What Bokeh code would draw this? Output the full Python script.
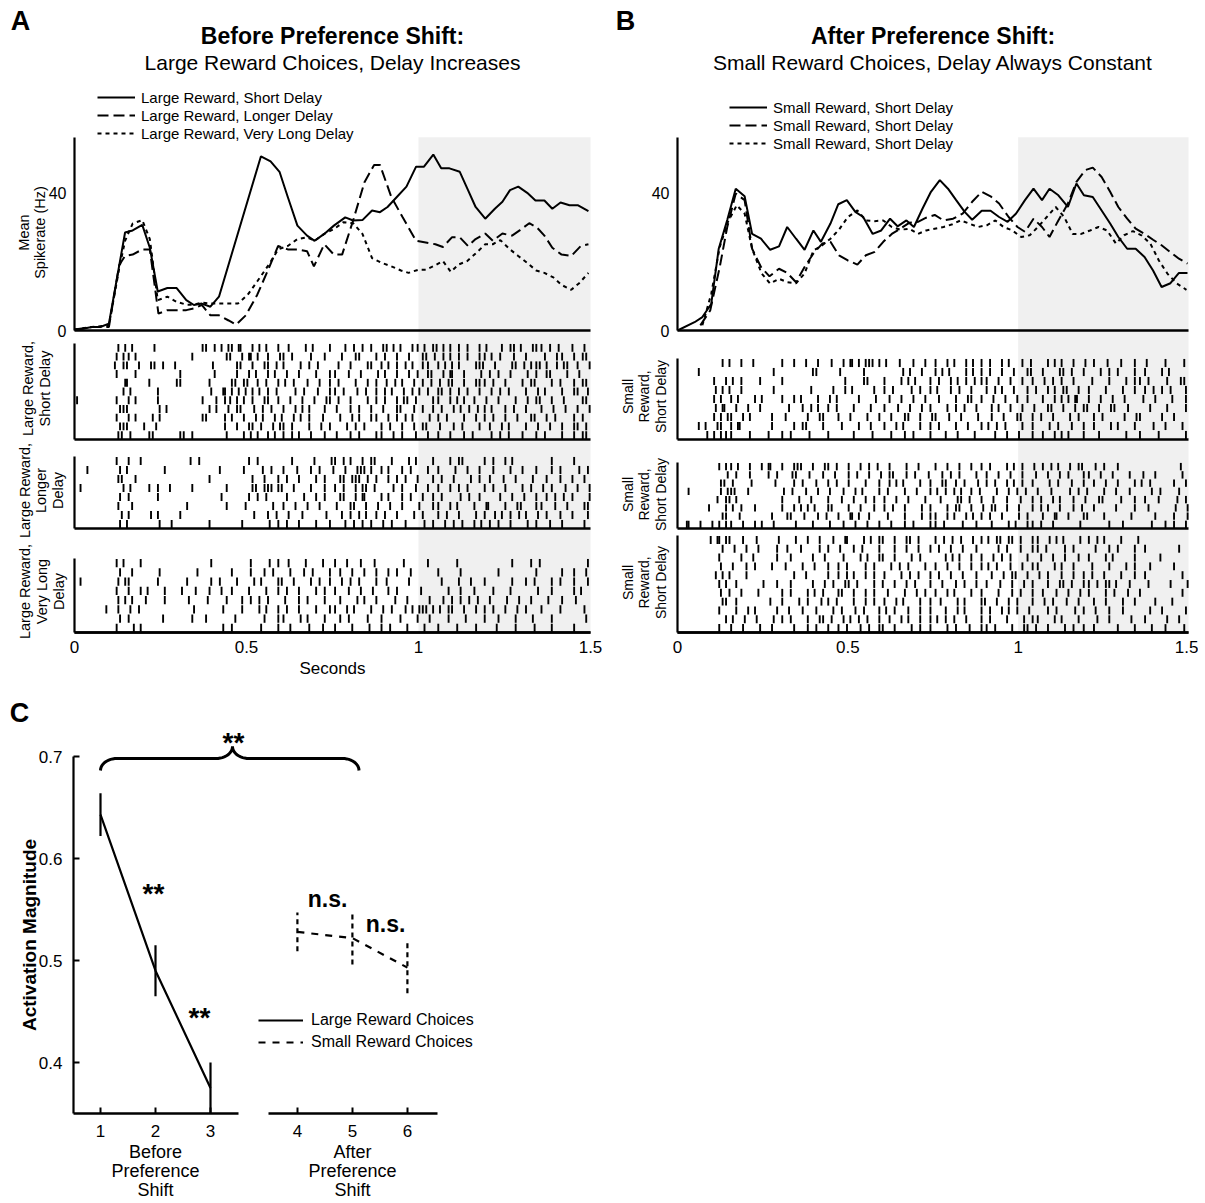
import math
from bokeh.plotting import figure
from bokeh.models import (Range1d, LinearAxis, FixedTicker, BoxAnnotation, Label,
                          Legend, LegendItem)
from bokeh.layouts import row, column
from bokeh.embed import file_html
from bokeh.resources import INLINE

FONT = "Liberation Sans"

# ------------------------------------------------------------------ data
# Panel A: mean spike rate (Hz) vs time (s)
a_solid_t = [0.0, 0.025, 0.05, 0.075, 0.1, 0.147, 0.169, 0.197, 0.219, 0.242, 0.27, 0.297, 0.325, 0.347,
             0.37, 0.395, 0.42, 0.542, 0.57, 0.596, 0.62, 0.648, 0.676, 0.698, 0.726, 0.754, 0.787, 0.81,
             0.837, 0.865, 0.888, 0.91, 0.937, 0.965, 0.993, 1.016, 1.043, 1.066, 1.09, 1.12, 1.144, 1.166,
             1.194, 1.222, 1.244, 1.266, 1.29, 1.316, 1.34, 1.366, 1.389, 1.413, 1.439, 1.464, 1.494]
a_solid_r = [0.2, 0.5, 1.0, 1.0, 2.0, 28.4, 29.0, 30.6, 24.0, 11.3, 12.3, 12.3, 8.8, 7.4,
             7.8, 6.9, 9.8, 50.5, 49.0, 46.0, 38.7, 30.4, 27.5, 26.0, 28.0, 30.4, 32.8, 31.9,
             32.0, 34.8, 34.3, 35.8, 38.7, 41.7, 47.5, 47.5, 51.0, 47.0, 47.0, 46.0, 40.7, 35.8,
             32.4, 35.3, 37.3, 40.7, 41.7, 39.9, 37.7, 37.7, 35.3, 37.1, 36.3, 36.3, 34.6]
a_dash_t = [0.0, 0.05, 0.1, 0.13, 0.147, 0.169, 0.197, 0.219, 0.244, 0.27, 0.297, 0.325, 0.347, 0.37,
            0.395, 0.42, 0.448, 0.47, 0.498, 0.531, 0.565, 0.592, 0.62, 0.648, 0.676, 0.696, 0.726,
            0.754, 0.778, 0.81, 0.843, 0.871, 0.888, 0.921, 0.954, 0.993, 1.021, 1.049, 1.071, 1.097,
            1.12, 1.144, 1.166, 1.194, 1.216, 1.244, 1.272, 1.294, 1.322, 1.344, 1.366, 1.389, 1.416,
            1.444, 1.472, 1.494]
a_dash_r = [0.3, 1.0, 1.0, 19.0, 21.6, 22.0, 23.5, 23.5, 4.9, 5.9, 5.9, 5.9, 6.4, 7.4,
            4.4, 4.4, 2.9, 1.7, 4.4, 10.3, 18.1, 24.5, 23.5, 23.5, 23.0, 18.6, 25.0,
            22.0, 22.0, 31.9, 43.0, 48.0, 48.0, 38.7, 32.8, 26.0, 25.5, 25.0, 24.2, 27.0,
            27.0, 24.5, 26.5, 28.1, 26.0, 28.1, 27.5, 29.0, 31.1, 29.9, 27.5, 24.0, 22.0,
            21.6, 24.5, 25.0]
a_dot_t = [0.0, 0.05, 0.1, 0.13, 0.147, 0.169, 0.197, 0.219, 0.242, 0.27, 0.297, 0.325, 0.347, 0.37,
           0.395, 0.42, 0.448, 0.475, 0.503, 0.531, 0.565, 0.592, 0.62, 0.648, 0.676, 0.698, 0.726,
           0.754, 0.782, 0.81, 0.837, 0.865, 0.893, 0.921, 0.949, 0.971, 0.999, 1.021, 1.049, 1.071,
           1.094, 1.116, 1.141, 1.166, 1.194, 1.216, 1.238, 1.266, 1.29, 1.316, 1.342, 1.366, 1.392,
           1.416, 1.444, 1.467, 1.494]
a_dot_r = [0.3, 1.0, 1.5, 18.0, 26.0, 31.0, 32.0, 26.5, 8.8, 9.8, 8.3, 7.5, 7.5, 8.1,
           7.8, 7.8, 7.8, 7.8, 10.3, 14.2, 19.1, 23.5, 24.5, 26.5, 27.0, 26.0, 28.0,
           29.4, 31.4, 31.1, 28.0, 21.0, 19.6, 18.6, 17.4, 16.7, 17.6, 17.6, 18.9, 20.1,
           17.0, 19.1, 20.1, 22.3, 25.0, 25.0, 26.2, 23.5, 21.6, 19.6, 17.4, 16.7, 15.4,
           13.2, 11.8, 13.7, 16.7]

# Panel B
b_solid_t = [0.0, 0.05, 0.073, 0.099, 0.121, 0.146, 0.171, 0.197, 0.219, 0.245, 0.272, 0.298, 0.322,
             0.348, 0.373, 0.399, 0.421, 0.449, 0.472, 0.497, 0.522, 0.545, 0.573, 0.598, 0.624, 0.646,
             0.672, 0.694, 0.719, 0.744, 0.77, 0.794, 0.818, 0.843, 0.865, 0.893, 0.919, 0.944, 0.969,
             0.994, 1.02, 1.045, 1.07, 1.092, 1.118, 1.146, 1.171, 1.193, 1.219, 1.245, 1.27, 1.294,
             1.32, 1.345, 1.371, 1.396, 1.421, 1.447, 1.472, 1.497]
b_solid_r = [0.0, 2.4, 3.9, 7.7, 23.7, 32.0, 41.1, 38.9, 28.0, 26.6, 23.4, 24.4, 30.0,
             26.6, 23.4, 29.0, 25.7, 31.0, 36.6, 37.8, 34.4, 32.9, 28.0, 29.0, 32.4, 30.2,
             31.9, 30.0, 35.3, 40.2, 43.6, 41.1, 37.8, 34.4, 32.1, 34.7, 34.7, 32.9, 31.5,
             33.9, 37.8, 41.1, 37.8, 41.1, 39.2, 35.8, 42.6, 39.2, 38.7, 34.8, 31.0, 27.1,
             23.7, 23.7, 21.3, 17.4, 12.6, 13.7, 16.7, 16.7]
b_dash_t = [0.067, 0.096, 0.124, 0.146, 0.171, 0.197, 0.219, 0.245, 0.27, 0.298, 0.322, 0.348, 0.373,
            0.399, 0.425, 0.449, 0.474, 0.5, 0.528, 0.553, 0.579, 0.604, 0.629, 0.654, 0.68, 0.706,
            0.73, 0.755, 0.781, 0.809, 0.837, 0.865, 0.893, 0.919, 0.944, 0.972, 0.998, 1.02, 1.045,
            1.07, 1.092, 1.118, 1.146, 1.171, 1.197, 1.219, 1.245, 1.27, 1.294, 1.32, 1.345, 1.371,
            1.396, 1.421, 1.447, 1.472, 1.497]
b_dash_r = [1.5, 5.8, 18.4, 30.0, 39.7, 37.8, 23.7, 18.4, 15.7, 17.9, 16.7, 14.0, 18.4,
            22.3, 25.2, 25.7, 21.8, 20.3, 19.1, 21.8, 22.8, 25.7, 28.0, 29.5, 31.2, 31.5,
            32.7, 33.5, 31.9, 32.4, 33.9, 37.3, 40.2, 38.9, 36.8, 32.9, 30.0, 28.6, 32.4,
            30.0, 27.1, 31.9, 36.8, 43.1, 46.5, 47.2, 44.5, 40.2, 35.8, 32.4, 29.5, 28.0,
            26.3, 24.7, 22.7, 20.8, 19.4]
b_dot_t = [0.073, 0.099, 0.124, 0.148, 0.174, 0.197, 0.219, 0.247, 0.272, 0.298, 0.322, 0.348, 0.373,
           0.399, 0.425, 0.449, 0.474, 0.5, 0.528, 0.553, 0.579, 0.604, 0.629, 0.654, 0.68, 0.706,
           0.73, 0.755, 0.781, 0.807, 0.831, 0.856, 0.882, 0.908, 0.933, 0.957, 0.983, 1.009, 1.034,
           1.058, 1.084, 1.11, 1.135, 1.16, 1.185, 1.211, 1.236, 1.261, 1.287, 1.311, 1.337, 1.362,
           1.388, 1.413, 1.438, 1.466, 1.494]
b_dot_r = [1.5, 10.6, 24.2, 31.5, 36.3, 33.9, 23.7, 16.5, 13.6, 15.0, 14.0, 13.7, 16.5,
           23.2, 24.7, 26.6, 29.2, 32.9, 34.8, 31.9, 31.7, 31.9, 30.0, 29.2, 29.5, 28.0,
           29.0, 29.5, 30.0, 30.8, 31.9, 31.0, 30.0, 30.5, 31.9, 30.0, 29.0, 27.1, 27.6,
           30.0, 32.9, 35.8, 32.9, 28.0, 28.0, 29.0, 30.0, 29.0, 25.2, 27.6, 28.8, 27.6,
           25.2, 20.3, 16.5, 13.6, 11.8]

legend_a = ["Large Reward, Short Delay", "Large Reward, Longer Delay", "Large Reward, Very Long Delay"]
legend_b = ["Small Reward, Short Delay", "Small Reward, Short Delay", "Small Reward, Short Delay"]
time_ticks = [0, 0.5, 1, 1.5]
time_tick_labels = ["0", "0.5", "1", "1.5"]
rate_ticks = [0, 40]

# Rasters: one string per trial, 10 groups of 10 bins (15 ms bins over 0-1.5 s).
# A mark is a spike in that bin: ':' early in the bin, '|' mid-bin, '!' late in the bin.
BIN = 0.015
raster_a1 = [
    "........|! .:...|.... ....!|.:|! |!:.|!.:.| .|..!.:..| ..|.:!.|.! |!.:.||!.| :|!.|.:.|! ..!.|:|.!| |.:!..|.!.",
    "........:| |!........ ..!......| :.|!:|.|.! |.:..!..|. .!..|:..|. :.|.!..|:! .|!.|.:.|| !.|..:.|.. .:.||.!.|:",
    ".......!.| :.|.!|.:.| ......!... .|:.|.!|.: |..!.|.:.. .:.|..!|.| !.|.:|.||. |!.:|..!|: .|..!|.:|| :|.|!|.|.!",
    "........:. .!........ |......:.. .|.!.:.|!. .:.|..!..| |..:.|..!. :.|.!.|.|: .|!:.|..!. |.:.|..!.| .|:..|.!..",
    ".........! :...|....! |.....:... |:!|.|.:.| !.|..:.|.| .:..|.!.|. |.:|.!.|.: !.|:.|.!|| .:.|..!.|: ..|.:.!.|:",
    ".........| !.....:... ......|.!: |!.:|!.|.: ..!.|..:.| |.:.!.|.|. :|.!.|!.|. |:!.|.:.|. !.|.:..|.! .:..|.!|.|",
    "|.......:. |!....:... ....!..|.: :|!.|.!|.| .!..:.|.!| .:.|..!.|. :.|!|.:..| |.!.:|.|.! ..:..|.!.| :.|.!...|:",
    "........!| :.....|!.. ......:|.! .|:.!.|.:. |.!.:|..|. !..|.:.|.! ..|:.!.|.| .:.|!.|.:| !..|.:.|.. |.!..:.|.!",
    "........:. |!...:|... ....!|...: |.!..:|.!. :.|!.|..:. .|.!.:.||. !.|.:|..!. |.:..|.!.| .:.|.!..|: .|.:..!.|.",
    "........!| :..|.!.... .........: .|.!|.:.|! |.:..|.!.| ..!.|.:..| .:.|.!.|:. !..|.:..|. |.!.:..|.! ..:.|.!|.:",
    "........|: !...|:.... |:!......| ..!.:|.|!. |.:|.!..|. !..|.:..|| .!.|..:.|. |.!..|.:.. !.|.:.!..| .:..|.!.|:",
]
raster_a2 = [
    "........:. |.!....... ..|.:..... ...!.|.... ..:...|..! |.:|.!.|:. .|..!.:..| ..!.|:...| .:.|!..... ..|...!...",
    "..|.....!. :......|.. ........:. ..!...|.:. |..:.!.|.. :.|.!|:|.| !..|.:..|. |..!..:.|. .:..|.!..| ..|.:..!.|",
    "........|: .!........ ......:... ....|.!..| .:.|..!.|. .|:!|:!.|. !.|.:.|..| .:.|..!.|. |..:.|..!. .|..:.|.!.",
    ".:.......| !...|.:.|. ..!......| ....|:!|:| :.|..!..|. |.:.|!|.:. .!.|..:.|. |.!.|.:..| .:.|..!.|. !.|..:.|.!",
    "........!. |.....:... ........|. ...!.|.:.. .:..|.!.|. .|:.|!:..| !..|.:.|.| .:..!.|.|. ..|.!..:.| .|.:!.|..!",
    "........|. .:........ .!.......| ...:....|. |.!..:.|.. !..|:.|.!. .:.|..!..| |.!.:..|.! :..|.!|..| |..:.|..!|",
    ".........: |...!.:... |......... ....!..|.: .|..:...!. .!.|.:|.|. :.|..!.|.. |.:.|..!.| .|!.|.:|.! .|..:.|..|",
    "........!. :.....|.!. ......:... ..|....!.| .:.|..!..| ..|.:!.|.! .|..:..!.| .!.|.:.|!. |.:.|..!.| ..:.|...!.",
]
raster_a3 = [
    "........:| ..!....... ......|... ....:..!.| .|..!...:. |.!..|..:. ...!....|. ....:..... ....!...|. :........|",
    "........!. .:....|... ...!...... |...:.!.|. .!..|.:..| .|.!..:.|. !.|..:.... |...!..... ..:......| ....|.!..:",
    ".:......|! |.....:... .!....|.:. .|..!.:..| :.|..!.|.| .!.|.:..|. |...!..... .:..|.!..| ....!..|.: ..|.:.!..|",
    "........:. |.!.:..|.. !..|..:.|. |..!...:.| .:.|..!.|. |..:.|.!.. !.|....:.. ..|.!..|.. .:..|....! ..|...!.:.",
    "........|! .:.!...|.. ..:..!...| ..|.:!.|.. !..|.:..|. .|..!.:.|. ..:.|...!. .|.:!.|.:. |..!..:.|. .!..|..:..",
    "......:.|. !.|....... ...:....!. ..|..!.:.| .:.|..!..| |.!.:..|.! .|..:|!|:| !.|:.|.!.| .:.|.!.|.. |...:...!.",
    "........!. |......:.. ..!..|.... .:....!..| |..!.:..|. .|.:..!..| ...:..|.!. ..|..!...| ..:..|..!. ..|......:",
    "........:. .|!....... ........!. |.....:..| .!...|..:. |..!...:.| .:..|..!.. |...:..!.. .!...|...: ..|...!...",
]
raster_b1 = [
    "........!. :.|.!..... |.!..:.|.. :.|!:|!|:| !..|..:.|. |.!.:.|!.| .:.|!..|.: ..|!.:.|.! .|..:.!..| .!...|...:",
    "....:..... ........!. ......|:.. .!....|... ....:|.!.. |!.:..|!.| .:.|.!..|: .|..!|.:.| ..!.|.:..| .|..!.:...",
    ".......:.| !.|...:... |......... ..!...|:.. |..!.:|..|. .:.|!.|.:| |.!..:.|.| .!.|.:.|.. .:..|..!.| |.:..!..|:",
    ".......|!. :.|.....!. ......:... |.!.:...|. |.:..!.|.| !..|.:.|.. |.:|.!..|. :.|!.|:.|. |..!...:.| .|.:!.|..|",
    ".......:|. |!...:|... |.!.:..|.! .:...|..!. .|.!..:.|. .:..|.!|.| .!..:.|.|. .|.!.:|!:. |.!..:.|.. .:.|..!..|",
    ".......|!: .|.!..:... .!..|.:|.| .:..|..!.. |..:.|.!.| ..!.|.:.|. .|!..:.|.! ..|:.|.!.| :.|.!|..:. ..|..!...|",
    ".......:|! |.!.:...|. .:...|.!|. .|.!...:.| .!..|:.|.! |..:.|..!. .|.!..|:.| .:.|..!.|. .|.:...|.! |...!..:..",
    "....:|.!|. |!:.....|. ..!.|:..|. ..:..|.!.. |.!.:..|.| .:..|.!..| !.|.:..|.| ..!.|..:.| .|..!.:..| ...:.|..!.",
    ".....!.:|| |...:..!.. |.:..!...| ....|...:. .!..|.:..| ..|.!...:. ..:.|.!..| .|.!.:|..| ..|....!.. |...:....|",
]
raster_b2 = [
    "........:| |!..:.|!:. |.!|:.|.!| .:.|.!.|.: .|..!..:.. |.!..:.|.| .:..|!.|.! .|.:|.!.|: .!.|..:... ........|.",
    ".........! .|..:..!.| ..|:.!..|. !..|.:.|.! .|:.!.|..: .!.|.:..|. |.!..:.|.. :.|.!.|..| |.!..:..|. .:.|....!.",
    "........|: !...|....: ..!.|..:.| .:.|..!..| .|!.:..|.| .!|.|.:.!. |.:.|!.|.| ..!.|..:.| .|.!..:..| !.|....:.|",
    "..:.....|! |:.!...... !.|..:.|.! ..|.!.:..| .:..|.!..| !.|.:|.|.: ..|.!.|.:. |..:..!.|. :..|.!..|. ..!.|...:.",
    ".......!.| :|........ |..!..:..| ..:.|.!.|. |.!..:..|. .|..!|.:.| .!..|..:.| .:.|!..|.! ..|:..!..| .|..:..!.|",
    "......:..| !.|..:.... |.!.:|!..| :..|.!..|. |.:.|..!.| ..!.|:.|.! .|:.|.!..| .:|.!..|.: .|...!...| ..:....|.!",
    "........!| ..:.....|. .|:.!..|.: .|.!:|.|.. .:..|..!.| |.!.:.|!.| .:.|..!.|. .|.!:.|..| :..|....!. ...|...:.!",
    ".!:.|.!.:| |.!..:|.!. ...:..|..! ..|.!..:.| .!..|.:..| |.:..!..|. .|..!.:.|| .:.|....!. ....|..:.. ..!..|.:.|",
]
raster_b3 = [
    "......|!:| :.!..|...! ...:.|.!.. |.!:..|!.| :.|.!|.:.. |.:!.|.!.| !.|:!|.:.| |.!.:|..!. |.:|..!... :.........",
    "........!. .:.|.!...| .|..:..!.| .!..|.:..| ..|.!..:.| .:.|.!..|. ..!.|..:.| |.:..!.|.. .!..|.:..| .|......:.",
    "........:. ..|.!....| ..:...|.!. ..|..!.:.| :.|..!.|.. ..|!.:.|.| .!.|.:..|. .:.|.!..|. |..!.:...| ....|.....",
    "........|. !..|.:..|. .:..|.!..| .|.:..!.|. .!.|.:..|. |.!..:.|.| !.|..:.|.| |..!.:.|.. .:..|..!.| ..|....:..",
    ".......|!. :..|...... ..!..:...| .|.:|.!.|. |..!.|.:.| .:.|.!..|. .|.!.|:.|. !.|..:.|.| .:.|..!..| .|......!.",
    "........:| .|....!..| ..:...|.!. |.!|.:..|. :.|.!.|..| .!..|.:.|. |..:.|.!.| ..|.!|.:.| |.:!|!..|. ..:...|..!",
    "........|. :.|..!.... |.:..|!.|. .|:.|.!.|. .:..|.!.|. |.!.:..|.| ..!..|.:.| .|..:.|.!. |..!.|..:. |.......!.",
    "........!| .|......:. |..!.|..:| .:..|.!.|. |.!.:..|.| .|..!.:..| :.|.!.|..| .!.|..:.|. .|.!...:.| ...|..!...",
    "........:. .|.!.:...| .!..|..:.. |.:.!.|..| !.|..:.|.| ..|.!.:..| .:.|!.|.!. ..|.:..!.| .!..|..:.. ..|.!....|",
    ".........| !..:.|..!. |.:..|.!|. :.|!.|.:.| .|.!.:.|.| !.|.:.|..| .:..|..!.| |..!.:..|. ..:.|...!. .|...!..:.",
    "........:. |.!...:.|. ..!..|.:.| .|.:.!.|.| :.|..!.|.| ..!.|..:.| |.:..|.!|. :.|..!.|.| .|....:..| ..!..|...:",
]

# Panel C: activation magnitude per condition
c_large_x = [1, 2, 3]
c_large_y = [0.643, 0.490, 0.375]
c_large_err = [0.021, 0.025, 0.025]
c_small_x = [4, 5, 6]
c_small_y = [0.528, 0.522, 0.493]
c_small_err = [0.019, 0.026, 0.025]
c_x_labels = ["1", "2", "3", "4", "5", "6"]
c_y_ticks = [0.4, 0.5, 0.6, 0.7]
legend_c = ["Large Reward Choices", "Small Reward Choices"]

# ------------------------------------------------------------------ layout (page px)
FIG_H = 684
ZERO_PX = 330.0           # y of 0 Hz
PX_HZ = 138.0 / 40.0      # px per Hz
RATE_TOP = 56.0
T_END = 1.5
BASE_PX = 632             # bottom time axis
SHADE_COLOR = "#f0f0f0"
JITTER = {":": -0.33, "|": 0.0, "!": 0.33}


def parse_raster(rows):
    n = len(rows)
    xs, ys = [], []
    for i, r in enumerate(rows):
        for g, grp in enumerate(r.split()):
            for j, ch in enumerate(grp):
                if ch in JITTER:
                    xs.append((g * 10 + j + 0.5 + JITTER[ch]) * BIN)
                    ys.append(n - i - 0.5)
    return xs, ys


def add_text(p, x, y, text, size, bold=False, angle=0.0, align="center", baseline="middle", **kw):
    p.add_layout(Label(x=x, y=y, text=text, angle=angle, text_align=align, text_baseline=baseline,
                       text_font=FONT, text_font_size=size,
                       text_font_style="bold" if bold else "normal", text_color="black", **kw))


def make_panel(canvas_left, width, frame_left, frame_right, letter, letter_px, title, subtitle,
               series, legend_labels, legend_px, rate_label, rasters, xlabel):
    pps = (frame_right - frame_left) / T_END

    def tx(px):
        return (px - frame_left) / pps

    def ry(py):
        return (ZERO_PX - py) / PX_HZ

    p = figure(width=width, height=FIG_H,
               x_range=Range1d(tx(canvas_left), tx(canvas_left + width)),
               y_range=Range1d(ry(FIG_H), ry(0)),
               x_axis_type=None, y_axis_type=None, output_backend="svg", toolbar_location=None,
               min_border=0, min_border_left=0, min_border_right=0, min_border_top=0,
               min_border_bottom=0)
    p.outline_line_color = None
    p.add_layout(BoxAnnotation(left=1.0, right=T_END, top=RATE_TOP, bottom=ry(BASE_PX),
                               fill_color=SHADE_COLOR, fill_alpha=1.0, line_color=None,
                               level="underlay"))

    # PSTH lines
    renderers = []
    for (t, r, dash) in series:
        renderers.append(p.line(t, r, line_color="black", line_width=2.0, line_dash=dash))
    p.segment(x0=[0], x1=[T_END], y0=[0], y1=[0], line_color="black", line_width=2.4)

    ya = LinearAxis(fixed_location=0.0, bounds=(0, RATE_TOP), ticker=FixedTicker(ticks=rate_ticks),
                    axis_line_width=2.2, axis_line_color="black",
                    major_tick_in=0, major_tick_out=0, minor_tick_in=0, minor_tick_out=0,
                    major_label_standoff=8, major_label_text_font=FONT,
                    major_label_text_font_size="16px", major_label_text_color="black")
    p.add_layout(ya, "left")

    xa = LinearAxis(fixed_location=ry(BASE_PX), bounds=(0, T_END),
                    ticker=FixedTicker(ticks=time_ticks),
                    major_label_overrides={k: v for k, v in zip(time_ticks, time_tick_labels)},
                    axis_line_width=2.4, axis_line_color="black",
                    major_tick_in=0, major_tick_out=0, minor_tick_in=0, minor_tick_out=0,
                    major_label_standoff=8, major_label_text_font=FONT,
                    major_label_text_font_size="17px", major_label_text_color="black")
    p.add_layout(xa, "below")

    # rasters
    for (name, rows, top_px, base_px, lab_lines, lab_xs, lab_cy, lab_size) in rasters:
        n = len(rows)
        ppr = (base_px - top_px) / n
        p.extra_y_ranges[name] = Range1d(-(FIG_H - base_px) / ppr, n + top_px / ppr)
        xs, ys = parse_raster(rows)
        p.segment(x0=xs, x1=xs, y0=[y - 0.45 for y in ys], y1=[y + 0.45 for y in ys],
                  y_range_name=name, line_color="black", line_width=1.9)
        p.segment(x0=[0], x1=[0], y0=[0], y1=[n], y_range_name=name,
                  line_color="black", line_width=2.2)
        p.segment(x0=[0], x1=[T_END], y0=[0], y1=[0], y_range_name=name,
                  line_color="black", line_width=2.4)
        for line, lx in zip(lab_lines, lab_xs):
            add_text(p, tx(lx), ry(lab_cy), line, lab_size, angle=math.pi / 2)

    if rate_label:
        lines, xs_, cy = rate_label
        for line, lx in zip(lines, xs_):
            add_text(p, tx(lx), ry(cy), line, "14.5px", angle=math.pi / 2)

    add_text(p, tx(letter_px[0]), ry(letter_px[1]), letter, "27px", bold=True)
    add_text(p, 0.75, ry(35), title, "23px", bold=True)
    add_text(p, 0.75, ry(62), subtitle, "21px")
    if xlabel:
        add_text(p, 0.75, ry(668), xlabel, "17px")

    leg = Legend(items=[LegendItem(label=l, renderers=[r]) for l, r in zip(legend_labels, renderers)],
                 location=(legend_px[0] - canvas_left, FIG_H - legend_px[1]),
                 orientation="vertical", border_line_color=None, background_fill_alpha=0.0,
                 padding=0, spacing=0, margin=0, glyph_width=38, glyph_height=18,
                 label_height=18, label_standoff=6, label_text_font=FONT,
                 label_text_font_size="15px", label_text_color="black")
    p.add_layout(leg)
    return p


SOLID, DASH, DOT = "solid", "11 5", "4 4"

fig_a = make_panel(
    canvas_left=0, width=604, frame_left=74, frame_right=590,
    letter="A", letter_px=(20, 20),
    title="Before Preference Shift:", subtitle="Large Reward Choices, Delay Increases",
    series=[(a_solid_t, a_solid_r, SOLID), (a_dash_t, a_dash_r, DASH), (a_dot_t, a_dot_r, DOT)],
    legend_labels=legend_a, legend_px=(97, 142),
    rate_label=(["Mean", "Spikerate (Hz)"], [23, 39], 232),
    rasters=[
        ("a1", raster_a1, 343, 439, ["Large Reward,", "Short Delay"], [27, 44], 388, "14.5px"),
        ("a2", raster_a2, 456, 528, ["Large Reward,", "Longer", "Delay"], [24, 40, 57], 490, "14.5px"),
        ("a3", raster_a3, 558, 632, ["Large Reward,", "Very Long", "Delay"], [24, 41, 58], 591, "14.5px"),
    ],
    xlabel="Seconds")

fig_b = make_panel(
    canvas_left=604, width=594, frame_left=677, frame_right=1188,
    letter="B", letter_px=(625, 20),
    title="After Preference Shift:", subtitle="Small Reward Choices, Delay Always Constant",
    series=[(b_solid_t, b_solid_r, SOLID), (b_dash_t, b_dash_r, DASH), (b_dot_t, b_dot_r, DOT)],
    legend_labels=legend_b, legend_px=(729, 152),
    rate_label=None,
    rasters=[
        ("b1", raster_b1, 358, 439, ["Small", "Reward,", "Short Delay"], [627, 643, 660], 396, "14px"),
        ("b2", raster_b2, 462, 528, ["Small", "Reward,", "Short Delay"], [627, 643, 660], 494, "14px"),
        ("b3", raster_b3, 535, 632, ["Small", "Reward,", "Short Delay"], [627, 643, 660], 582, "14px"),
    ],
    xlabel=None)

# ------------------------------------------------------------------ panel C
GAP = 0.58          # horizontal gap inserted between the two condition groups
C_TOP, C_W, C_H = 684, 500, 516
C_AXIS_L_PX = 73
C_PX_X, C_PX_Y = 55.0, 1020.0
C_TICK1_PX, C_07_PX = 100.0, 756.0
C_FLOOR = 0.35


def cpos(c):
    return round(c + GAP, 2) if c >= 4 else float(c)


def cxp(px):
    return 1.0 + (px - C_TICK1_PX) / C_PX_X


def cyp(py):
    return 0.7 - (py - C_07_PX) / C_PX_Y


fig_c = figure(width=C_W, height=C_H,
               x_range=Range1d(cxp(0), cxp(C_W)),
               y_range=Range1d(cyp(C_TOP + C_H), cyp(C_TOP)),
               x_axis_type=None, y_axis_type=None, output_backend="svg", toolbar_location=None,
               min_border=0, min_border_left=0, min_border_right=0, min_border_top=0,
               min_border_bottom=0)
fig_c.outline_line_color = None

lx = [cpos(c) for c in c_large_x]
sx = [cpos(c) for c in c_small_x]
r_large = fig_c.line(lx, c_large_y, line_color="black", line_width=2.2)
fig_c.segment(x0=lx, x1=lx, y0=[max(y - e, C_FLOOR) for y, e in zip(c_large_y, c_large_err)],
              y1=[y + e for y, e in zip(c_large_y, c_large_err)], line_color="black", line_width=2.2)
r_small = fig_c.line(sx, c_small_y, line_color="black", line_width=2.2, line_dash="7 7")
fig_c.segment(x0=sx, x1=sx, y0=[y - e for y, e in zip(c_small_y, c_small_err)],
              y1=[y + e for y, e in zip(c_small_y, c_small_err)], line_color="black",
              line_width=2.2, line_dash="5 4")

# broken baseline (two axis pieces)
fig_c.segment(x0=[cxp(C_AXIS_L_PX), cxp(268)], x1=[cxp(238), cxp(437)],
              y0=[C_FLOOR, C_FLOOR], y1=[C_FLOOR, C_FLOOR], line_color="black", line_width=2.4)

all_x = [cpos(c) for c in c_large_x + c_small_x]
xa_c = LinearAxis(fixed_location=C_FLOOR, ticker=FixedTicker(ticks=all_x),
                  major_label_overrides={k: v for k, v in zip(all_x, c_x_labels)},
                  axis_line_color=None, major_tick_in=6, major_tick_out=0, major_tick_line_width=2,
                  minor_tick_in=0, minor_tick_out=0, major_label_standoff=11,
                  major_label_text_font=FONT, major_label_text_font_size="17px",
                  major_label_text_color="black")
fig_c.add_layout(xa_c, "below")
ya_c = LinearAxis(fixed_location=cxp(C_AXIS_L_PX), bounds=(C_FLOOR, 0.7),
                  ticker=FixedTicker(ticks=c_y_ticks),
                  axis_line_width=2.2, axis_line_color="black",
                  major_tick_in=6, major_tick_out=0, major_tick_line_width=2,
                  minor_tick_in=0, minor_tick_out=0, major_label_standoff=11,
                  major_label_text_font=FONT, major_label_text_font_size="17px",
                  major_label_text_color="black")
fig_c.add_layout(ya_c, "left")

# curly brace across conditions 1..5
bx0, bxm, bx1 = 1.0, 3.4, 5.7
by_end, by_mid, by_peak = cyp(770), cyp(758), cyp(746)
rx = 0.3
steps = 12
bxs, bys = [], []
for k in range(steps + 1):
    th = (math.pi / 2) * k / steps
    bxs.append(bx0 + rx * (1 - math.cos(th))); bys.append(by_end + (by_mid - by_end) * math.sin(th))
for k in range(steps + 1):
    th = (math.pi / 2) * k / steps
    bxs.append(bxm - rx + rx * math.sin(th)); bys.append(by_mid + (by_peak - by_mid) * (1 - math.cos(th)))
for k in range(steps + 1):
    th = (math.pi / 2) * (steps - k) / steps
    bxs.append(bxm + rx - rx * math.sin(th)); bys.append(by_mid + (by_peak - by_mid) * (1 - math.cos(th)))
for k in range(steps + 1):
    th = (math.pi / 2) * (steps - k) / steps
    bxs.append(bx1 - rx * (1 - math.cos(th))); bys.append(by_end + (by_mid - by_end) * math.sin(th))
fig_c.line(bxs, bys, line_color="black", line_width=3)

add_text(fig_c, cxp(233), cyp(742), "**", "28px", bold=True)
add_text(fig_c, cxp(153), cyp(893), "**", "28px", bold=True)
add_text(fig_c, cxp(199), cyp(1017), "**", "28px", bold=True)
add_text(fig_c, cxp(327), cyp(898), "n.s.", "23px", bold=True)
add_text(fig_c, cxp(385), cyp(923), "n.s.", "23px", bold=True)
add_text(fig_c, cxp(19), cyp(712), "C", "27px", bold=True)
add_text(fig_c, cxp(29), 0.525, "Activation Magnitude", "19px", bold=True, angle=math.pi / 2)
for i, line in enumerate(["Before", "Preference", "Shift"]):
    add_text(fig_c, cpos(2), cyp(1151 + 19 * i), line, "18px")
for i, line in enumerate(["After", "Preference", "Shift"]):
    add_text(fig_c, cpos(5), cyp(1151 + 19 * i), line, "18px")

leg_c = Legend(items=[LegendItem(label=legend_c[0], renderers=[r_large]),
                      LegendItem(label=legend_c[1], renderers=[r_small])],
               location=(258, C_TOP + C_H - 1053), orientation="vertical",
               border_line_color=None, background_fill_alpha=0.0, padding=0, spacing=0, margin=0,
               glyph_width=45, glyph_height=22, label_height=22, label_standoff=8,
               label_text_font=FONT, label_text_font_size="16px", label_text_color="black")
fig_c.add_layout(leg_c)

layout = column(row(fig_a, fig_b), fig_c)
open("out.html", "w").write(file_html(layout, INLINE))
